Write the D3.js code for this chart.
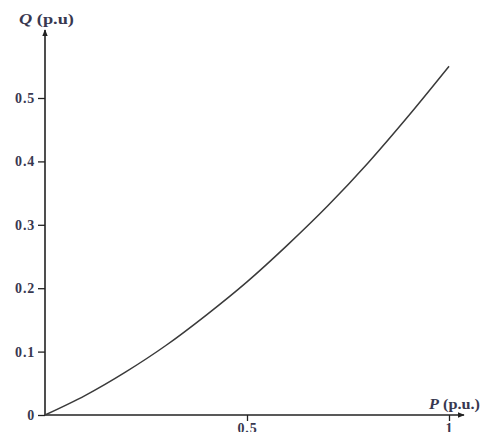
<!DOCTYPE html>
<html>
<head>
<meta charset="utf-8">
<script src="https://cdn.jsdelivr.net/npm/d3@7"></script>
<style>
  html, body { margin: 0; padding: 0; background: #fff; }
  svg { display: block; }
</style>
</head>
<body>
<svg id="chart" width="481" height="432"></svg>
<script>
// Data
const P = [0, 0.1, 0.2, 0.3, 0.4, 0.5, 0.6, 0.7, 0.8, 0.9, 1.0];
const Q = [0, 0.031, 0.068, 0.110, 0.158, 0.210, 0.268, 0.330, 0.398, 0.472, 0.550];
const yTicks = [0, 0.1, 0.2, 0.3, 0.4, 0.5];
const yTickLabels = ["0", "0.1", "0.2", "0.3", "0.4", "0.5"];
const xTicks = [0.5, 1];
const xTickLabels = ["0.5", "1"];

const svg = d3.select("#chart");
const x = d3.scaleLinear().domain([0, 1]).range([45, 449]);
const y = d3.scaleLinear().domain([0, 0.5]).range([415, 98]);

const axisColor = "#222";
const textColor = "#383850";
const font = "'Liberation Serif', 'DejaVu Serif', serif";

// Y axis ticks + labels
const yAxis = d3.axisLeft(y).tickValues(yTicks)
  .tickFormat((d, i) => yTickLabels[i]).tickSize(7).tickPadding(3);
const gy = svg.append("g").attr("transform", "translate(45,0)").call(yAxis);
gy.select(".domain").remove();
gy.selectAll(".tick line").attr("stroke", axisColor).attr("stroke-width", 1.3);
gy.selectAll(".tick text").attr("fill", textColor)
  .style("font-family", font).style("font-size", "14px").style("font-weight", "bold")
  .style("letter-spacing", "0.8px");

// X axis ticks + labels
const xAxis = d3.axisBottom(x).tickValues(xTicks)
  .tickFormat((d, i) => xTickLabels[i]).tickSize(6).tickPadding(2);
const gx = svg.append("g").attr("transform", "translate(0,415)").call(xAxis);
gx.select(".domain").remove();
gx.selectAll(".tick line").attr("stroke", axisColor).attr("stroke-width", 1.3);
gx.selectAll(".tick text").attr("fill", textColor)
  .style("font-family", font).style("font-size", "14px").style("font-weight", "bold")
  .style("letter-spacing", "0.8px");

// Axis lines with arrows
const defs = svg.append("defs");
defs.append("marker").attr("id", "arrow")
  .attr("viewBox", "0 0 10 10").attr("refX", 9).attr("refY", 5)
  .attr("markerWidth", 7).attr("markerHeight", 7)
  .attr("markerUnits", "userSpaceOnUse")
  .attr("orient", "auto")
  .append("path").attr("d", "M0,1 L10,5 L0,9 Z").attr("fill", axisColor);

svg.append("line").attr("x1", x(0)).attr("y1", y(0)).attr("x2", x(0)).attr("y2", 30)
  .attr("stroke", axisColor).attr("stroke-width", 1.6).attr("marker-end", "url(#arrow)");
svg.append("line").attr("x1", x(0)).attr("y1", y(0)).attr("x2", 464).attr("y2", y(0))
  .attr("stroke", axisColor).attr("stroke-width", 1.6).attr("marker-end", "url(#arrow)");

// Curve
const line = d3.line().x((d, i) => x(P[i])).y(d => y(d)).curve(d3.curveMonotoneX);
svg.append("path").datum(Q).attr("d", line)
  .attr("fill", "none").attr("stroke", "#3a3a3a").attr("stroke-width", 1.5);

// Axis titles
const yt = svg.append("text").attr("x", 19).attr("y", 24)
  .attr("textLength", 55).attr("lengthAdjust", "spacingAndGlyphs")
  .style("font-family", font).style("font-size", "14px").style("font-weight", "bold")
  .attr("fill", textColor);
yt.append("tspan").style("font-style", "italic").text("Q");
yt.append("tspan").text(" (p.u)");

const xt = svg.append("text").attr("x", 429).attr("y", 409)
  .attr("textLength", 51).attr("lengthAdjust", "spacingAndGlyphs")
  .style("font-family", font).style("font-size", "14px").style("font-weight", "bold")
  .attr("fill", textColor);
xt.append("tspan").style("font-style", "italic").text("P");
xt.append("tspan").text(" (p.u.)");
</script>
</body>
</html>
